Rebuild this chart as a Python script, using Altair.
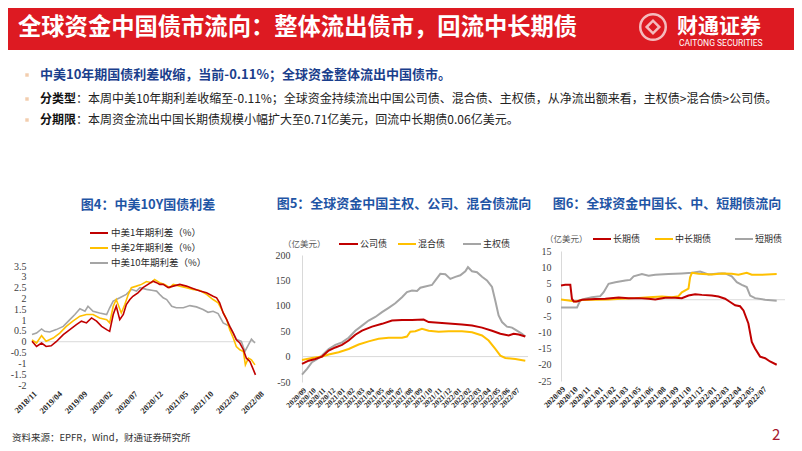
import altair as alt
import pandas as pd

SANS = "Noto Sans CJK SC"
SERIF = "Liberation Serif"
RED = "#C00000"
YEL = "#FFC000"
GRY = "#A5A5A5"
BLUE = "#1F55A5"
LEG = "#2B2B2B"

# ---------------- 图4 data (month offset from 2018/11, spread %) ----------------
c1_labels = ["2018/11", "2019/04", "2019/09", "2020/02", "2020/07",
             "2020/12", "2021/05", "2021/10", "2022/03", "2022/08"]
c1_names = ["中美1年期利差（%）", "中美2年期利差（%）", "中美10年期利差（%）"]
c1_1y_m = [0, 0.9, 1.9, 2.8, 3.8, 4.8, 6.2, 7.5, 8.8, 9.8, 10.8, 11.8, 12.8, 13.8, 14.8, 15.4,
           16.1, 16.7, 17.4, 18.1, 18.7, 19.4, 20.0, 21.0, 22.0, 23.0, 24.0, 24.7, 25.3, 26.0,
           27.0, 28.0, 29.3, 30.6, 31.9, 33.3, 34.6, 35.9, 36.6, 37.2, 37.9, 38.6, 39.2, 39.9,
           40.5, 41.2, 41.9, 42.5, 43.2, 43.9, 44.3]
c1_1y_v = [0.02, -0.22, -0.06, -0.22, -0.19, 0.00, 0.33, 0.56, 0.79, 0.95, 0.87, 1.10, 0.95,
           0.71, 0.56, 0.48, 1.26, 1.64, 1.02, 1.26, 1.72, 1.95, 2.10, 2.26, 2.50, 2.65, 2.80,
           2.73, 2.65, 2.65, 2.50, 2.57, 2.65, 2.57, 2.46, 2.34, 2.26, 2.10, 2.03, 1.80, 1.33,
           1.02, 0.71, 0.40, 0.09, -0.06, -0.37, -0.76, -0.91, -1.30, -1.53]
c1_2y_m = [0, 0.9, 1.9, 2.8, 4.2, 5.5, 6.8, 8.1, 9.5, 10.8, 12.1, 13.4, 14.8, 15.4, 16.1, 16.7,
           17.7, 18.4, 19.1, 19.7, 20.7, 21.7, 22.7, 23.7, 24.3, 25.3, 26.3, 27.3, 28.0, 29.3,
           30.6, 31.9, 33.3, 34.6, 35.9, 36.9, 37.6, 38.6, 39.2, 39.9, 40.5, 41.2, 41.9, 42.3,
           42.9, 43.5, 44.2]
c1_2y_v = [0.09, -0.06, 0.28, 0.02, 0.17, 0.40, 0.71, 0.95, 1.18, 1.26, 1.26, 1.10, 1.02, 0.87,
           1.64, 1.95, 1.33, 1.72, 2.19, 2.50, 2.57, 2.65, 2.78, 2.73, 2.88, 2.73, 2.65, 2.50,
           2.65, 2.57, 2.50, 2.42, 2.37, 2.19, 1.95, 1.80, 1.49, 1.02, 0.56, 0.17, -0.22, -0.37,
           -0.45, -1.07, -0.76, -0.84, -1.07]
c1_10y_m = [0, 0.9, 1.9, 2.5, 3.5, 4.8, 6.2, 7.5, 8.5, 9.5, 10.5, 11.1, 12.1, 13.4, 14.8, 15.4,
            16.1, 17.4, 18.7, 19.7, 20.7, 21.4, 22.7, 24.0, 24.7, 25.3, 26.0, 26.7, 27.7, 28.6,
            30.0, 31.3, 32.6, 33.9, 34.9, 35.9, 36.9, 37.9, 39.2, 39.9, 40.5, 41.5, 42.2, 42.9,
            43.5, 44.2]
c1_10y_v = [0.33, 0.40, 0.59, 0.48, 0.45, 0.56, 0.71, 1.02, 1.26, 1.52, 1.41, 1.64, 1.41, 1.33,
            1.26, 1.57, 1.88, 2.03, 2.19, 2.42, 2.34, 2.50, 2.42, 2.37, 2.34, 2.19, 2.03, 1.95,
            1.64, 1.57, 1.57, 1.67, 1.61, 1.49, 1.36, 1.41, 1.30, 0.87, 0.71, 0.40, 0.12, 0.02,
            -0.45, -0.14, 0.12, -0.06]

# ---------------- 图5 data (month offset from 2020/09, 亿美元) ----------------
c2_labels = ["2020/09", "2020/10", "2020/11", "2020/12", "2021/01", "2021/02", "2021/03",
             "2021/04", "2021/05", "2021/06", "2021/07", "2021/08", "2021/09", "2021/10",
             "2021/11", "2021/12", "2022/01", "2022/02", "2022/03", "2022/04", "2022/05",
             "2022/06", "2022/07"]
c2_names = ["公司债", "混合债", "主权债"]
c2_corp_t = [0, 0.69, 1.37, 2.06, 2.75, 3.44, 4.12, 4.81, 5.50, 6.19, 7.22, 8.25, 9.28, 10.31,
             11.34, 12.54, 13.06, 14.09, 15.46, 16.49, 17.53, 18.56, 19.59, 20.45, 21.31, 21.82,
             22.34, 23.02]
c2_corp_v = [-14.5, -8, -4.6, 0, 12, 18, 23, 31.6, 43, 51, 59, 64.5, 71, 72, 72, 73, 68, 66.5,
             64.5, 63, 61, 57, 51, 45, 41.5, 45, 43.4, 39.5]
c2_mix_t = [0, 1.03, 2.06, 2.75, 3.78, 4.81, 5.84, 6.87, 7.90, 8.93, 10.31, 10.82, 11.17, 11.68,
            12.37, 13.06, 14.09, 15.12, 16.49, 17.53, 18.56, 19.24, 19.93, 20.45, 20.96, 21.99,
            23.02]
c2_mix_v = [-6.6, -2.6, 0, 4, 8.5, 15, 23.7, 30, 35, 37, 37, 39.5, 49, 50, 54.6, 51, 49, 50, 50,
            48, 41.5, 31.6, 15, 2, -2.6, -4.6, -8]
c2_sov_t = [0, 0.52, 1.03, 1.55, 2.06, 2.75, 3.44, 4.12, 4.81, 5.50, 6.19, 6.87, 7.56, 8.25,
            8.93, 9.62, 10.31, 10.82, 11.34, 11.86, 12.20, 12.71, 13.40, 13.75, 14.26, 14.78,
            15.29, 15.81, 16.32, 16.84, 17.11, 17.53, 18.04, 18.56, 19.07, 19.59, 19.93, 20.27,
            20.62, 21.13, 21.65, 22.16, 22.68, 23.02]
c2_sov_v = [-35.5, -24, -11, -5, 2, 15, 23, 28, 37, 51, 61, 71, 78, 87.5, 96, 105, 117, 127,
            130, 129, 135.5, 138, 141, 150, 163, 162, 153, 157, 160, 168, 176, 168, 166, 157,
            150, 137, 110, 81, 68, 59, 57, 51, 45, 39.5]

# ---------------- 图6 data (label-step offset from 2020/09, 亿美元) ----------------
c3_labels = ["2020/09", "2020/10", "2020/11", "2021/01", "2021/02", "2021/03", "2021/05",
             "2021/06", "2021/08", "2021/09", "2021/10", "2021/12", "2022/01", "2022/03",
             "2022/04", "2022/05", "2022/07"]
c3_names = ["长期债", "中长期债", "短期债"]
c3_long_u = [0, 0.34, 0.74, 0.87, 1.01, 1.27, 1.67, 2.72, 3.52, 4.58, 5.37, 6.16, 6.96, 7.49,
             8.28, 9.07, 9.60, 10.13, 10.66, 11.19, 11.98, 12.51, 13.04, 13.44, 13.84, 14.23,
             14.50, 14.89, 15.16, 15.42, 15.82, 16.22, 16.61, 17.14]
c3_long_v = [4.4, 4.6, 4.6, 0.3, -0.5, -0.5, 0, 0.2, 0.3, 0.7, 0.5, 0.5, 0.3, 0.1, 0.6, 0.6, 0.5,
             1.3, 1.7, 1.5, 1.3, 1.0, 0.3, -0.7, -1.7, -2.0, -3.3, -7.3, -13, -15, -17.5, -18,
             -19, -20]
c3_mid_u = [0, 0.61, 1.14, 1.67, 2.72, 3.78, 4.84, 5.90, 6.96, 8.02, 8.81, 9.34, 9.60, 10.13,
            10.26, 10.40, 10.93, 11.98, 12.78, 13.57, 14.10, 14.76, 15.16, 15.95, 17.14]
c3_mid_v = [0.1, -0.2, -0.5, -0.1, 0, 0.1, 0.3, 0.5, 0.8, 1.0, 0.8, 1.1, 2.3, 3.4, 6.9, 8.3, 8.0,
            7.8, 8.1, 8.0, 7.7, 8.3, 7.7, 7.7, 7.9]
c3_short_u = [0, 1.27, 1.53, 1.93, 2.46, 3.12, 3.39, 3.78, 4.31, 5.11, 5.50, 5.77, 6.43, 6.96,
              7.49, 8.54, 9.60, 10.40, 11.06, 11.72, 12.51, 13.04, 13.57, 13.97, 14.37, 14.76,
              15.03, 15.42, 16.22, 17.14]
c3_short_v = [-2.4, -2.4, -0.2, 0.3, 0.8, 1.1, 2.3, 4.9, 5.4, 5.9, 6.1, 7.2, 7.9, 7.4, 7.7, 7.9,
              8.1, 8.3, 8.7, 7.8, 8.1, 8.1, 7.2, 5.4, 4.6, 3.9, 1.3, 0.5, 0, -0.3]

# ---------------- text content ----------------
title_text = "全球资金中国债市流向：整体流出债市，回流中长期债"
bullet1 = "中美10年期国债利差收缩，当前-0.11%；全球资金整体流出中国债市。"
bullet2_head = "分类型"
bullet2_body = "：本周中美10年期利差收缩至-0.11%；全球资金持续流出中国公司债、混合债、主权债，从净流出额来看，主权债>混合债>公司债。"
bullet3_head = "分期限"
bullet3_body = "：本周资金流出中国长期债规模小幅扩大至0.71亿美元，回流中长期债0.06亿美元。"
fig_titles = ["图4：中美10Y国债利差", "图5：全球资金中国主权、公司、混合债流向", "图6：全球资金中国长、中、短期债流向"]
unit_text = "（亿美元）"
source_text = "资料来源：EPFR，Wind，财通证券研究所"

ONE = pd.DataFrame({"k": [0]})


def txt(x, y, s, size=12, color="#222222", weight="normal", font=SANS, align="left", baseline="middle"):
    return alt.Chart(ONE).mark_text(text=s, fontSize=size, color=color, fontWeight=weight, font=font,
                                    align=align, baseline=baseline).encode(x=alt.value(x), y=alt.value(y))


def seg(x0, x1, y, color, w=2):
    return alt.Chart(ONE).mark_rule(color=color, strokeWidth=w).encode(
        x=alt.value(x0), x2=alt.value(x1), y=alt.value(y))


def lbl_expr(labels, step=1):
    arr = "[" + ",".join("'%s'" % s for s in labels) + "]"
    return "%s[round(datum.value/%s)]" % (arr, step)


def series_df(xs, vs):
    return pd.DataFrame({"x": xs, "v": vs})


def line_layer(df, color, xscale, yscale, xaxis, yaxis, w=2):
    return alt.Chart(df).mark_line(color=color, strokeWidth=w).encode(
        x=alt.X("x:Q", scale=xscale, axis=xaxis),
        y=alt.Y("v:Q", scale=yscale, axis=yaxis),
    )


def zero_layer(x0, x1, xscale, yscale, xaxis, yaxis, color="#D9D9D9"):
    df = pd.DataFrame({"x": [x0], "x2": [x1], "v": [0]})
    return alt.Chart(df).mark_rule(color=color, strokeWidth=1).encode(
        x=alt.X("x:Q", scale=xscale, axis=xaxis), x2="x2:Q",
        y=alt.Y("v:Q", scale=yscale, axis=yaxis))


def xaxis(values, labels, step, size):
    return alt.Axis(values=values, labelExpr=lbl_expr(labels, step), labelAngle=315, labelAlign="right",
                    labelBaseline="top", labelFont=SERIF, labelFontWeight="bold", labelFontSize=size,
                    labelColor="#262626", labelPadding=4, labelOverlap=False, domain=False, ticks=False,
                    grid=False, title=None)


def yaxis(values, pad, domain):
    return alt.Axis(values=values, labelExpr="'' + datum.value", labelFont=SERIF, labelFontSize=10,
                    labelColor="#404040", labelPadding=pad, domain=domain, domainColor="#D9D9D9",
                    ticks=False, grid=False, title=None)


def panel_lines(xs, ys, xa, ya, zero_to, series, w=2):
    layers = [zero_layer(0, zero_to, xs, ys, xa, ya)]
    for xv, vv, col in series:
        layers.append(line_layer(series_df(xv, vv), col, xs, ys, xa, ya, w))
    return layers


# ---------------- panel 1 ----------------
x1s = alt.Scale(domain=[0, 45], range=[0, 227], nice=False, zero=False)
y1s = alt.Scale(domain=[-2, 3.5], range=[134, 15], nice=False, zero=False)
xa1 = xaxis(list(range(0, 50, 5)), c1_labels, 5, 8.5)
ya1 = yaxis([-2, -1.5, -1, -0.5, 0, 0.5, 1, 1.5, 2, 2.5, 3, 3.5], 6, False)

header = [
    alt.Chart(ONE).mark_rect(color="#DD1A22").encode(
        x=alt.value(-24), x2=alt.value(762), y=alt.value(-243), y2=alt.value(-201)),
    txt(-14, -223, title_text, size=23.3, color="white", weight="bold"),
    alt.Chart(ONE).mark_point(shape="circle", filled=False, color="white", strokeWidth=2.5, size=650).encode(
        x=alt.value(621), y=alt.value(-224)),
    alt.Chart(ONE).mark_point(shape="diamond", filled=False, color="white", strokeWidth=2.5, size=160).encode(
        x=alt.value(621), y=alt.value(-224)),
    txt(645, -224, "财通证券", size=21, color="white", weight="bold"),
    txt(647, -208, "CAITONG SECURITIES", size=8.5, color="white", font="Roboto"),
    alt.Chart(pd.DataFrame({"yy": [-176, -152, -131]})).mark_square(color="#EDB88B", size=12).encode(
        x=alt.value(-5), y=alt.Y("yy:Q", scale=None, axis=None)),
    txt(8, -176, bullet1, size=13, color="#1A3E8C", weight="bold"),
    txt(8, -152, bullet2_head, size=12, color="#111111", weight="bold"),
    txt(44, -152, bullet2_body, size=12, color="#222222"),
    txt(8, -131, bullet3_head, size=12, color="#111111", weight="bold"),
    txt(44, -131, bullet3_body, size=12, color="#222222"),
    txt(116, -46, fig_titles[0], size=13, color=BLUE, weight="bold", align="center"),
    seg(58, 76, -18, RED), txt(79, -18, c1_names[0], size=9.5, color=LEG),
    seg(58, 76, -3, YEL), txt(79, -3, c1_names[1], size=9.5, color=LEG),
    seg(58, 76, 12, GRY), txt(79, 12, c1_names[2], size=9.5, color=LEG),
    txt(-20, 187, source_text, size=9.5, color="#333333"),
]

p1 = alt.layer(
    *panel_lines(x1s, y1s, xa1, ya1, 44.3,
                 [(c1_10y_m, c1_10y_v, GRY), (c1_2y_m, c1_2y_v, YEL), (c1_1y_m, c1_1y_v, RED)], 1.6),
    *header,
).properties(width=237, height=134)

# ---------------- panel 2 ----------------
x2s = alt.Scale(domain=[0, 23.3], nice=False, zero=False)
y2s = alt.Scale(domain=[-50, 200], range=[131, 4], nice=False, zero=False)
xa2 = xaxis(list(range(0, 23)), c2_labels, 1, 7.5)
ya2 = yaxis([-50, 0, 50, 100, 150, 200], 12, True)

p2 = alt.layer(
    *panel_lines(x2s, y2s, xa2, ya2, 23.3,
                 [(c2_sov_t, c2_sov_v, GRY), (c2_mix_t, c2_mix_v, YEL), (c2_corp_t, c2_corp_v, RED)]),
    txt(102, -47, fig_titles[1], size=13, color=BLUE, weight="bold", align="center"),
    txt(-19, -7, unit_text, size=8.5, color="#595959"),
    seg(37, 56, -7, RED), txt(58, -7, c2_names[0], size=9, color=LEG),
    seg(96, 114, -7, YEL), txt(116, -7, c2_names[1], size=9, color=LEG),
    seg(161, 179, -7, GRY), txt(181, -7, c2_names[2], size=9, color=LEG),
).properties(width=226, height=131)

# ---------------- panel 3 ----------------
x3s = alt.Scale(domain=[0, 17.8], nice=False, zero=False)
y3s = alt.Scale(domain=[-25, 15], nice=False, zero=False)
xa3 = xaxis(list(range(0, 17)), c3_labels, 1, 8)
ya3 = yaxis([-25, -20, -15, -10, -5, 0, 5, 10, 15], 10, True)

p3 = alt.layer(
    *panel_lines(x3s, y3s, xa3, ya3, 17.8,
                 [(c3_short_u, c3_short_v, GRY), (c3_mid_u, c3_mid_v, YEL), (c3_long_u, c3_long_v, RED)]),
    txt(106, -47, fig_titles[2], size=13, color=BLUE, weight="bold", align="center"),
    txt(-16, -12, unit_text, size=8.5, color="#595959"),
    seg(32, 50, -12, RED), txt(52, -12, c3_names[0], size=9, color=LEG),
    seg(94, 112, -12, YEL), txt(114, -12, c3_names[1], size=9, color=LEG),
    seg(174, 192, -12, GRY), txt(194, -12, c3_names[2], size=9, color=LEG),
    txt(211, 184, "2", size=15, color="#A6192E"),
).properties(width=224, height=130)

chart = alt.hconcat(p1, p2, p3, spacing=33, bounds="flush").properties(
    padding=0, background="white"
).configure_view(strokeWidth=0)

chart.save("out.html", embed_options={"renderer": "svg", "actions": False})
